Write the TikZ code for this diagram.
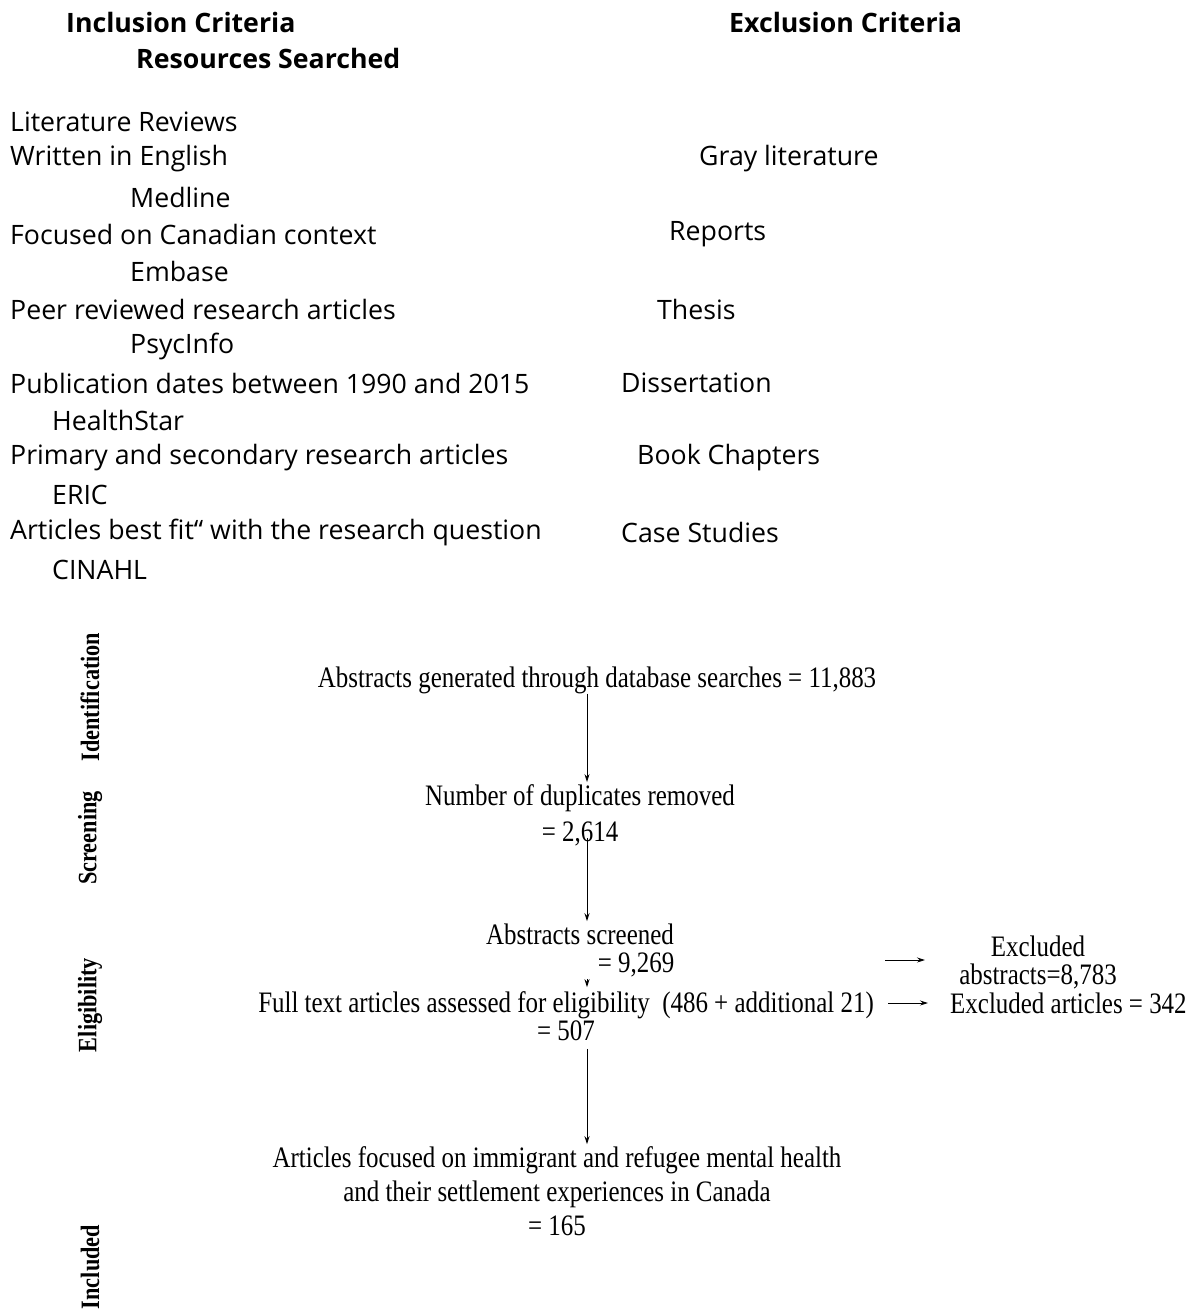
\documentclass[tikz,border=0pt]{standalone}
\usepackage{fontspec}
\setmainfont{Open Sans}
\newfontfamily\flowfont[FakeStretch=0.84]{Liberation Serif}
\usetikzlibrary{arrows.meta}

\begin{document}
\begin{tikzpicture}[x=1pt,y=-1pt,
    crit/.style={anchor=west,inner sep=0pt,font=\fontsize{26.7}{32}\selectfont},
    head/.style={anchor=west,inner sep=0pt,font=\fontsize{26.7}{32}\selectfont\bfseries},
    flow/.style={inner sep=0pt,align=center,font=\flowfont\fontsize{29.7}{36}\selectfont},
    phase/.style={rotate=90,inner sep=0pt,font=\flowfont\fontsize{26.5}{30}\selectfont\bfseries},
    arr/.style={-{Stealth[length=8pt,width=5pt]},line width=0.9pt}]
    \useasboundingbox (0,0) rectangle (1195,1310);

    % Headings
    \node[head] (inc) at (66,22) {Inclusion Criteria};
    \node[head] (exc) at (729,22) {Exclusion Criteria};
    \node[head] (res) at (136,58) {Resources Searched};

    % Inclusion criteria
    \node[crit] (lit) at (10,122) {Literature Reviews};
    \node[crit] (eng) at (10,159) {Written in English};
    \node[crit] (can) at (10,234) {Focused on Canadian context};
    \node[crit] (peer) at (10,309) {Peer reviewed research articles};
    \node[crit] (dates) at (10,383) {Publication dates between 1990 and 2015};
    \node[crit] (prim) at (10,458) {Primary and secondary research articles};
    \node[crit] (fit) at (10,532) {Articles best fit“ with the research question};

    % Exclusion criteria
    \node[crit] (gray) at (699,159) {Gray literature};
    \node[crit] (rep) at (669,234) {Reports};
    \node[crit] (thes) at (657,309) {Thesis};
    \node[crit] (diss) at (621,383) {Dissertation};
    \node[crit] (book) at (637,458) {Book Chapters};
    \node[crit] (case) at (621,532) {Case Studies};

    % Resources searched
    \node[crit] (med) at (130,197) {Medline};
    \node[crit] (emb) at (130,271) {Embase};
    \node[crit] (psy) at (130,346) {PsycInfo};
    \node[crit] (hs) at (52,420) {HealthStar};
    \node[crit] (eric) at (52,495) {ERIC};
    \node[crit] (cin) at (52,570) {CINAHL};

    % Phases
    \node[phase] (ident) at (90,697) {Identification};
    \node[phase] (scrn) at (90,838) {Screening};
    \node[phase] (elig) at (90,1005) {Eligibility};
    \node[phase] (incl) at (90,1267) {Included};

    % Flow
    \coordinate (spine) at (587,0);
    \node[flow] (gen) at (597,680) {Abstracts generated through database searches = 11,883};
    \node[flow] (dup) at (580,815) {Number of duplicates removed\\= 2,614};
    \node[flow] (scr) at (580,950) {Abstracts screened\\[-8pt]\hspace*{112pt}= 9,269};
    \node[flow] (full) at (566,1016) {Full text articles assessed for eligibility\ \ (486 + additional 21)\\[-8pt]= 507};
    \node[flow] (fin) at (557,1191) {Articles focused on immigrant and refugee mental health\\[-2pt]and their settlement experiences in Canada\\[-2pt]= 165};
    \node[flow] (exabs) at (1038,962) {Excluded\\[-8pt]abstracts=8,783};
    \node[flow,anchor=west] (exart) at (950,1003) {Excluded articles = 342};

    \draw[arr] (gen.south -| spine) -- ([yshift=2pt]dup.north -| spine);
    \draw[arr] ([yshift=8pt]dup.south -| spine) -- ([yshift=2pt]scr.north -| spine);
    \draw[arr] ([yshift=-2pt]scr.south -| spine) -- ([yshift=4pt]full.north -| spine);
    \draw[arr] ([yshift=-8pt]full.south -| spine) -- ([yshift=2pt]fin.north -| spine);

    \coordinate (xa) at (885,960);
    \coordinate (xb) at (888,1003);
    \draw[arr] (xa) -- ([xshift=40pt]xa);
    \draw[arr,shorten >=22pt] (xb) -- (exart.west);
\end{tikzpicture}
\end{document}
